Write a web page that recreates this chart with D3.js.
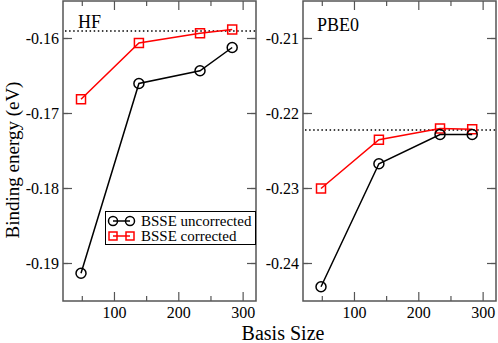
<!DOCTYPE html>
<html><head><meta charset="utf-8">
<script src="https://cdn.jsdelivr.net/npm/d3@7"></script>
<style>body{margin:0;background:#fff}svg{display:block}</style>
</head><body><svg id="c" width="498" height="343"></svg>
<script>
const basis = [48, 138, 233, 283];
const hfUncorrected = [-0.1913, -0.1660, -0.1643, -0.1612];
const hfCorrected = [-0.1681, -0.1606, -0.1593, -0.1588];
const hfReference = -0.1590;
const pbeUncorrected = [-0.2431, -0.2267, -0.2228, -0.2228];
const pbeCorrected = [-0.2300, -0.2235, -0.2220, -0.2221];
const pbeReference = -0.2222;
const xTicks = [100, 200, 300];
const hfYTicks = [-0.16, -0.17, -0.18, -0.19];
const pbeYTicks = [-0.21, -0.22, -0.23, -0.24];
const seriesNames = ["BSSE uncorrected", "BSSE corrected"];

const FONT = "Liberation Serif, serif";
const svg = d3.select("#c");
const frameColor = "#555";

function panel(cfg){
  const x = d3.scaleLinear().domain([20, 320]).range([cfg.x0, cfg.x1]);
  const y = d3.scaleLinear().domain(cfg.ydom).range([301, 1]);
  const g = svg.append("g");
  const majX = xTicks, minX = d3.range(50, 301, 100);
  const majY = cfg.yticks;
  const minY = d3.range(cfg.ydom[0] + 0.005, cfg.ydom[1], 0.01);
  g.append("rect").attr("x", cfg.x0).attr("y", 1).attr("width", cfg.x1 - cfg.x0).attr("height", 300)
    .attr("fill", "none").attr("stroke", frameColor).attr("stroke-width", 1.5);
  const tk = g.append("g").attr("stroke", frameColor).attr("stroke-width", 1.2);
  const addX = (vals, len) => vals.forEach(v => {
    tk.append("line").attr("x1", x(v)).attr("x2", x(v)).attr("y1", 301).attr("y2", 301 - len);
    tk.append("line").attr("x1", x(v)).attr("x2", x(v)).attr("y1", 1).attr("y2", 1 + len);
  });
  const addY = (vals, len) => vals.forEach(v => {
    tk.append("line").attr("y1", y(v)).attr("y2", y(v)).attr("x1", cfg.x0).attr("x2", cfg.x0 + len);
    tk.append("line").attr("y1", y(v)).attr("y2", y(v)).attr("x1", cfg.x1).attr("x2", cfg.x1 - len);
  });
  addX(majX, 9); addX(minX, 5); addY(majY, 9); addY(minY, 5);
  majX.forEach(v => g.append("text").attr("font-family", FONT).attr("x", x(v)).attr("y", 318).attr("text-anchor", "middle")
    .attr("font-size", 16).text(String(v)));
  majY.forEach(v => g.append("text").attr("font-family", FONT).attr("x", cfg.x0 - 4).attr("y", y(v)).attr("dy", "0.35em")
    .attr("text-anchor", "end").attr("font-size", 16).text(v.toFixed(2)));
  g.append("line").attr("x1", cfg.x0 + 2).attr("x2", cfg.x1).attr("y1", y(cfg.ref)).attr("y2", y(cfg.ref))
    .attr("stroke", "#000").attr("stroke-width", 1.5).attr("stroke-dasharray", "1.5,2.6");
  g.append("text").attr("font-family", FONT).attr("x", cfg.x0 + cfg.lx).attr("y", cfg.ly).attr("font-size", 18).text(cfg.label);
  const line = d3.line().x((d, i) => x(basis[i])).y(d => y(d));
  g.append("path").datum(cfg.corr).attr("d", line).attr("fill", "none").attr("stroke", "#f00").attr("stroke-width", 1.5);
  g.selectAll(".sq").data(cfg.corr).join("rect").attr("x", (d, i) => x(basis[i]) - 4.5).attr("y", d => y(d) - 4.5)
    .attr("width", 9).attr("height", 9).attr("fill", "none").attr("stroke", "#f00").attr("stroke-width", 1.5);
  g.append("path").datum(cfg.unc).attr("d", line).attr("fill", "none").attr("stroke", "#000").attr("stroke-width", 1.5);
  g.selectAll(".ci").data(cfg.unc).join("circle").attr("cx", (d, i) => x(basis[i])).attr("cy", d => y(d))
    .attr("r", 5).attr("fill", "none").attr("stroke", "#000").attr("stroke-width", 1.5);
}

panel({x0: 63, x1: 256, ydom: [-0.195, -0.155], yticks: hfYTicks, ref: hfReference,
  unc: hfUncorrected, corr: hfCorrected, label: "HF", lx: 15, ly: 28});
panel({x0: 303, x1: 496, ydom: [-0.245, -0.205], yticks: pbeYTicks, ref: pbeReference,
  unc: pbeUncorrected, corr: pbeCorrected, label: "PBE0", lx: 14, ly: 31});

svg.append("text").attr("font-family", FONT).attr("transform", "translate(19,160) rotate(-90)").attr("text-anchor", "middle")
  .attr("font-size", 19).text("Binding energy (eV)");
svg.append("text").attr("font-family", FONT).attr("x", 283).attr("y", 340).attr("text-anchor", "middle").attr("font-size", 20).text("Basis Size");

const lg = svg.append("g");
lg.append("rect").attr("x", 105.5).attr("y", 211.5).attr("width", 150).attr("height", 33)
  .attr("fill", "#fff").attr("stroke", "#000").attr("stroke-width", 1);
const rows = [{name: seriesNames[0], color: "#000", shape: "circle", y: 221},
              {name: seriesNames[1], color: "#f00", shape: "square", y: 236}];
rows.forEach(r => {
  lg.append("line").attr("x1", 113).attr("x2", 130).attr("y1", r.y).attr("y2", r.y).attr("stroke", r.color).attr("stroke-width", 1.5);
  [113, 130].forEach(cx => {
    if (r.shape === "circle") lg.append("circle").attr("cx", cx).attr("cy", r.y).attr("r", 4.5).attr("fill", "none").attr("stroke", r.color).attr("stroke-width", 1.5);
    else lg.append("rect").attr("x", cx - 4).attr("y", r.y - 4).attr("width", 8).attr("height", 8).attr("fill", "none").attr("stroke", r.color).attr("stroke-width", 1.5);
  });
  lg.append("text").attr("font-family", FONT).attr("x", 141).attr("y", r.y).attr("dy", "0.35em").attr("font-size", 15).text(r.name);
});
</script></body></html>
